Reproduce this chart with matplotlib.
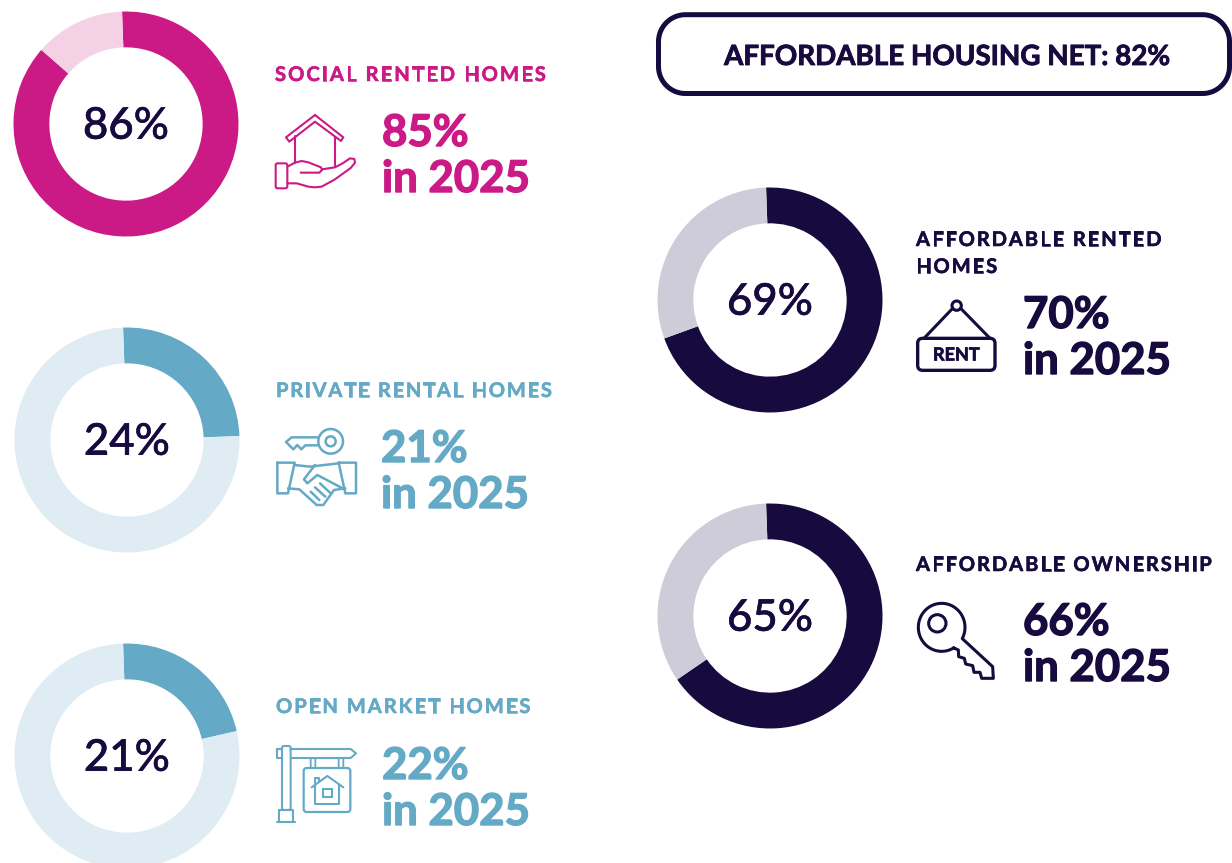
import matplotlib
matplotlib.use("Agg")
import numpy as np
from matplotlib import pyplot as plt
from matplotlib import patheffects as pe
from matplotlib.patches import Circle, FancyBboxPatch, Rectangle

# chart data
left_names = ["SOCIAL RENTED HOMES", "PRIVATE RENTAL HOMES", "OPEN MARKET HOMES"]
left_now = [86, 24, 21]
left_arc = [87, 25, 22]  # ring share as drawn, a bit over the printed number
left_2025 = [85, 21, 22]
right_names = ["AFFORDABLE RENTED\nHOMES", "AFFORDABLE OWNERSHIP"]
right_now = [69, 65]
right_arc = [70, 66]
right_2025 = [70, 66]
net_label = "AFFORDABLE HOUSING NET: 82%"

PINK = "#CB1A85"
PINK_L = "#F5D1E6"
BLUE = "#64A9C5"
BLUE_L = "#DFECF3"
NAVY = "#170A3E"
GREY = "#CFCCDA"
W, H = 1232, 863

plt.rcParams["font.family"] = ["Lato", "DejaVu Sans"]

fig = plt.figure(figsize=(W / 100, H / 100), dpi=100, facecolor="white")
ax = fig.add_axes([0, 0, 1, 1])
ax.set_xlim(0, W)
ax.set_ylim(H, 0)
ax.axis("off")


def heavy(t, col, w):
    # reference font is heavier than Lato bold
    t.set_path_effects([pe.withStroke(linewidth=w, foreground=col)])
    return t


def donut(cx, cy, value, arc, col, col_light, r=112.5):
    sub = fig.add_axes([(cx - r) / W, 1 - (cy + r) / H, 2 * r / W, 2 * r / H])
    sub.pie([arc, 100 - arc], colors=[col, col_light], startangle=92,
            counterclock=False, radius=1, wedgeprops={"width": 36 / 113, "linewidth": 0})
    sub.set_xlim(-1, 1)
    sub.set_ylim(-1, 1)
    t = sub.text(0, -0.02, f"{value}%", ha="center", va="center", fontsize=31.5,
                 color=NAVY, fontweight="medium")
    heavy(t, NAVY, 0.4)


def label(x, y, s, col, size=14.5, track=1.9):
    # no letter spacing in matplotlib, so place the letters one by one
    r = fig.canvas.get_renderer()
    bar = ax.text(0, 0, "|", fontsize=size, fontweight="bold")
    bar_w = bar.get_window_extent(r).width
    bar.remove()
    for i, ch in enumerate(s):
        tmp = ax.text(0, 0, s[:i] + "|", fontsize=size, fontweight="bold")
        adv = tmp.get_window_extent(r).width - bar_w
        tmp.remove()
        t = ax.text(x + adv + track * i, y, ch, color=col, fontsize=size, fontweight="bold",
                    va="baseline", ha="left")
        heavy(t, col, 0.4)


def big(x, y, val, col):
    for yy, s in [(y, f"{val}%"), (y + 46, "in 2025")]:
        t = ax.text(x, yy, s, color=col, fontsize=31.5, fontweight="bold", va="baseline", ha="left")
        heavy(t, col, 1.0)


def line(pts, ox, oy, col, lw=1.5, closed=False):
    # icon outlines, given in zoom crop pixels (3x)
    xs = [ox + p[0] / 3 for p in pts]
    ys = [oy + p[1] / 3 for p in pts]
    if closed:
        xs.append(xs[0])
        ys.append(ys[0])
    ax.plot(xs, ys, color=col, lw=lw, solid_joinstyle="round", solid_capstyle="round")


def rrect(x, y, w, h, col, lw=1.5, rad=2):
    ax.add_patch(FancyBboxPatch((x + rad, y + rad), w - 2 * rad, h - 2 * rad,
                                boxstyle=f"round,pad={rad},rounding_size={rad}",
                                fc="none", ec=col, lw=lw))


def pill(x0, y0, x1, y1, rad, col, lw):
    # true circular corners, y axis points down here
    corners = [(x0 + rad, y0 + rad, 180), (x1 - rad, y0 + rad, 270),
               (x1 - rad, y1 - rad, 0), (x0 + rad, y1 - rad, 90)]
    xs, ys = [], []
    for cx, cy, a in corners:
        th = np.radians(np.linspace(a, a + 90, 30))
        xs.extend(cx + rad * np.cos(th))
        ys.extend(cy + rad * np.sin(th))
    xs.append(xs[0])
    ys.append(ys[0])
    ax.plot(xs, ys, color=col, lw=lw, solid_joinstyle="round")


def icon_hand(ox, oy, col):
    line([(165, 195), (250, 262), (243, 273), (165, 215), (88, 275), (78, 262)], ox, oy, col, closed=True)
    line([(105, 258), (105, 338)], ox, oy, col)
    line([(225, 262), (225, 352)], ox, oy, col)
    line([(82, 350), (105, 338), (125, 333), (145, 337), (165, 345), (183, 352), (186, 360),
          (178, 368), (122, 368)], ox, oy, col)
    line([(186, 358), (225, 352), (248, 340), (270, 325), (283, 327), (285, 338), (272, 354),
          (225, 388), (185, 410), (165, 412), (145, 410), (110, 400), (82, 400)], ox, oy, col)
    rrect(ox + 47 / 3, oy + 340 / 3, 35 / 3, 75 / 3, col, 1.5, 2)


def icon_shake(ox, oy, col):
    ax.add_patch(Circle((ox + 212 / 3, oy + 94 / 3), 37 / 3, fc="none", ec=col, lw=1.8))
    ax.add_patch(Circle((ox + 212 / 3, oy + 94 / 3), 15 / 3, fc="none", ec=col, lw=1.8))
    line([(176, 82), (95, 82), (78, 96), (100, 118), (112, 105), (124, 118), (136, 106), (176, 106)], ox, oy, col, 1.8)
    line([(52, 158), (104, 158), (84, 250), (52, 250)], ox, oy, col, 1.8, closed=True)
    line([(236, 158), (288, 158), (288, 250), (256, 250)], ox, oy, col, 1.8, closed=True)
    line([(104, 165), (150, 170), (236, 160)], ox, oy, col, 1.8)
    line([(165, 165), (132, 208), (142, 220), (172, 195), (248, 235)], ox, oy, col, 1.8)
    line([(84, 235), (118, 238), (170, 285), (190, 285), (222, 240), (256, 235)], ox, oy, col, 1.8)
    for a, b in [((152, 245), (178, 270)), ((165, 232), (196, 260)), ((180, 220), (210, 248))]:
        line([a, b], ox, oy, col, 1.8)


def icon_sign(ox, oy, col):
    rrect(ox + 66 / 3, oy + 48 / 3, 26 / 3, 192 / 3, col, 1.5, 2)
    line([(66, 57), (50, 57), (50, 84), (66, 84)], ox, oy, col)
    line([(92, 57), (272, 57), (288, 70), (272, 84), (92, 84)], ox, oy, col)
    line([(58, 275), (58, 240), (98, 240), (98, 275)], ox, oy, col)
    line([(50, 277), (105, 277)], ox, oy, col)
    for x in (152, 236):
        rrect(ox + x / 3, oy + 84 / 3, 14 / 3, 30 / 3, col, 1.3, 0.5)
    rrect(ox + 131 / 3, oy + 114 / 3, 140 / 3, 132 / 3, col, 1.6, 3)
    line([(155, 172), (202, 138), (250, 172)], ox, oy, col)
    line([(166, 165), (166, 222), (238, 222), (238, 165)], ox, oy, col)
    line([(166, 160), (166, 143), (178, 143), (178, 152)], ox, oy, col)
    ax.add_patch(Rectangle((ox + 190 / 3, oy + 176 / 3), 25 / 3, 25 / 3, fc="none", ec=col, lw=1.5))


def icon_rent(ox, oy, col):
    ax.add_patch(Circle((ox + 170 / 3, oy + 62 / 3), 14 / 3, fc="none", ec=col, lw=2.2))
    line([(158, 70), (72, 160)], ox, oy, col, 2.2)
    line([(182, 70), (270, 160)], ox, oy, col, 2.2)
    rrect(ox + 53 / 3, oy + 160 / 3, 232 / 3, 96 / 3, col, 2.4, 5)
    t = ax.text(ox + 169 / 3, oy + 210 / 3, "RENT", color=col, fontsize=13, fontweight="bold",
                ha="center", va="center")
    heavy(t, col, 0.5)


def icon_key(ox, oy, col):
    ax.add_patch(Circle((ox + 112 / 3, oy + 85 / 3), 26 / 3, fc="none", ec=col, lw=2.2))
    th = np.radians(np.linspace(59, 388, 60))
    head = list(zip(125 + 70 * np.cos(th), 97 + 72 * np.sin(th)))
    shaft = [(278, 215), (280, 250), (245, 250), (240, 232), (222, 232), (218, 212),
             (197, 207), (193, 190), (176, 185), (175, 165)]
    line(head + shaft, ox, oy, col, 2.2, closed=True)


# left column
left_cols = [(PINK, PINK_L), (BLUE, BLUE_L), (BLUE, BLUE_L)]
left_cx = [126, 127, 127]
left_cy = [124, 440, 756]
left_lab_x = [275, 276, 276]
left_lab_y = [81, 397, 713]
left_track = [2.1, 1.75, 2.0]
left_big_x = [382, 381, 382]
left_big_y = [146, 462, 779]
left_icons = [icon_hand, icon_shake, icon_sign]
left_icon_o = [(260, 50), (260, 410), (260, 730)]
for i in range(3):
    c, cl = left_cols[i]
    donut(left_cx[i], left_cy[i], left_now[i], left_arc[i], c, cl)
    label(left_lab_x[i], left_lab_y[i], left_names[i], c, track=left_track[i])
    big(left_big_x[i], left_big_y[i], left_2025[i], c)
    left_icons[i](left_icon_o[i][0], left_icon_o[i][1], c)

# right column
donut(770, 300, right_now[0], right_arc[0], NAVY, GREY)
donut(770, 616, right_now[1], right_arc[1], NAVY, GREY)
parts = right_names[0].split("\n")
label(916, 246, parts[0], NAVY, track=1.95)
label(916, 273, parts[1], NAVY, track=1.95)
label(916, 571, right_names[1], NAVY, track=2.0)
big(1023, 328, right_2025[0], NAVY)
big(1023, 635, right_2025[1], NAVY)
icon_rent(900, 285, NAVY)
icon_key(900, 595, NAVY)

# pill at the top right, its right end touches the edge
pill(658.5, 14.7, 1229.5, 93.5, 27, NAVY, 3.6)
t = ax.text(947, 57, net_label, color=NAVY, fontsize=20, fontweight="bold", ha="center", va="center")
heavy(t, NAVY, 0.6)

fig.savefig("out.png", dpi=100, facecolor="white")
